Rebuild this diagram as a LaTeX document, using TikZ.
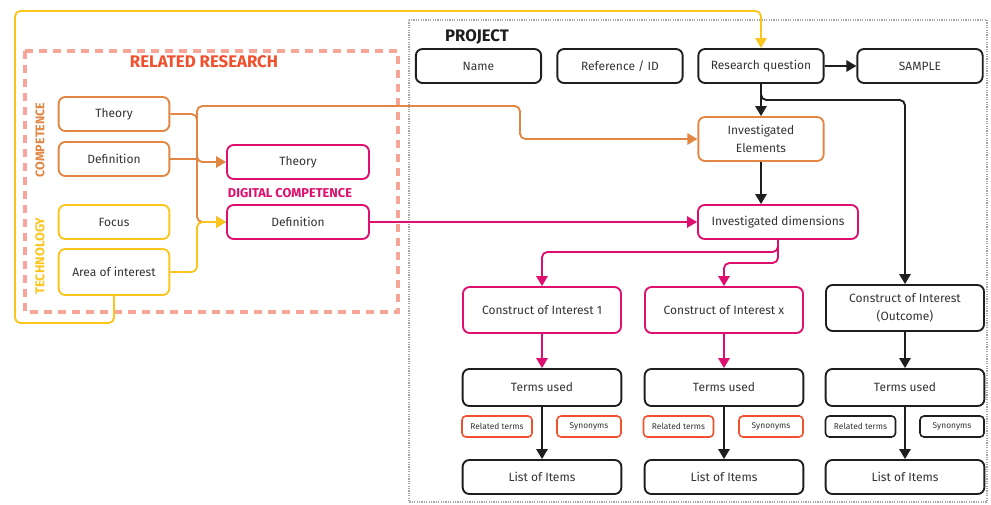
\documentclass[tikz,border=0pt]{standalone}
\usepackage{fontspec}
\setmainfont{Fira Sans}
\usepackage{tikz}
\usetikzlibrary{arrows.meta,positioning,calc}
\usepackage{xcolor}
\definecolor{compor}{RGB}{226,135,67}
\definecolor{techyel}{RGB}{250,198,30}
\definecolor{digmag}{RGB}{222,15,110}
\definecolor{relred}{RGB}{240,80,45}
\definecolor{relsalmon}{RGB}{246,165,150}
\definecolor{projgray}{RGB}{165,165,165}
\definecolor{inkblk}{RGB}{30,30,30}

\begin{document}
\begin{tikzpicture}[x=0.75pt,y=-0.75pt,
    box/.style={draw=inkblk,line width=1.4pt,rounded corners=5pt,align=center,inner sep=1pt,
      minimum height=25.5pt,font=\fontsize{9}{13.5}\selectfont,text=black!80},
    tagbox/.style={draw=relred,line width=1.2pt,rounded corners=3pt,inner sep=1pt,
      minimum height=15.75pt,font=\fontsize{6.3}{7}\selectfont,text=black!80},
    link/.style={line width=1.4pt,rounded corners=4pt},
    tip/.style={link,-{Triangle[length=7.5pt,width=8.5pt]}},
    heading/.style={font=\bfseries\fontsize{#1}{#1}\selectfont}]
    \useasboundingbox (0,0) rectangle (991,504);
    % frames
    \draw[projgray,line width=2.2pt,dash pattern=on 0.9pt off 0.9pt] (409,20) rectangle (987,502);
    \draw[relsalmon,line width=3pt,dash pattern=on 6pt off 4.5pt] (25,51) rectangle (398,312);
    \node[heading=12.5,text=inkblk] (projlbl) at (477,37) {PROJECT};
    \node[heading=12.6,text=relred] (rellbl) at (204,62) {RELATED RESEARCH};
    \node[heading=9.4,text=compor,rotate=90] (complbl) at (40,140) {COMPETENCE};
    \node[heading=9.6,text=techyel,rotate=90] (techlbl) at (40,256) {TECHNOLOGY};
    \node[heading=9.6,text=digmag] (diglbl) at (290,193) {DIGITAL COMPETENCE};

    % related research
    \node[box,draw=compor,minimum width=83pt] (ctheory) at (114,114) {Theory};
    \node[box,draw=compor,minimum width=83pt] (cdef) at (114,159) {Definition};
    \node[box,draw=techyel,minimum width=83pt] (focus) at (114,222) {Focus};
    \node[box,draw=techyel,minimum width=83pt,minimum height=34.5pt] (area) at (114,272) {Area of interest};
    \node[box,draw=digmag,minimum width=106.5pt] (dtheory) at (298,162) {Theory};
    \node[box,draw=digmag,minimum width=106.5pt] (ddef) at (298,222) {Definition};

    % project
    \node[box,minimum width=94pt] (name) at (478.5,66) {Name};
    \node[box,minimum width=94pt] (refid) at (620,66) {Reference / ID};
    \node[box,minimum width=94pt] (rq) at (761,66) {Research question};
    \node[box,minimum width=94pt] (sample) at (920,66) {SAMPLE};
    \node[box,draw=compor,minimum width=94pt,minimum height=33pt] (ie) at (761,139) {Investigated\\Elements};
    \node[box,draw=digmag,minimum width=120pt] (idim) at (778,222) {Investigated dimensions};

    \node[box,draw=digmag,minimum width=118.5pt,minimum height=34.5pt] (c1) at (542,310) {Construct of Interest 1};
    \node[box,draw=digmag,minimum width=118.5pt,minimum height=34.5pt] (cx) at (724,310) {Construct of Interest x};
    \node[box,minimum width=118.5pt,minimum height=34.5pt] (outc) at (905,308) {Construct of Interest\\(Outcome)};

    \node[box,minimum width=119pt,minimum height=27.75pt] (terms1) at (542,387.5) {Terms used};
    \node[box,minimum width=119pt,minimum height=27.75pt] (termsx) at (724,387.5) {Terms used};
    \node[box,minimum width=119pt,minimum height=27.75pt] (termso) at (905,387.5) {Terms used};

    \node[tagbox,minimum width=52.5pt] (rel1) at (497,426.5) {Related terms};
    \node[tagbox,minimum width=48pt] (syn1) at (589,426.5) {Synonyms};
    \node[tagbox,minimum width=52.5pt] (relx) at (678.5,426.5) {Related terms};
    \node[tagbox,minimum width=48pt] (synx) at (771,426.5) {Synonyms};
    \node[tagbox,draw=inkblk,minimum width=52.5pt] (relo) at (860.5,426.5) {Related terms};
    \node[tagbox,draw=inkblk,minimum width=48pt] (syno) at (952,426.5) {Synonyms};

    \node[box,minimum width=119pt] (list1) at (542,477) {List of Items};
    \node[box,minimum width=119pt] (listx) at (724,477) {List of Items};
    \node[box,minimum width=119pt] (listo) at (905,477) {List of Items};

    % connectors
    \coordinate (loopbl) at (15,323);
    \coordinate (looptl) at (15,11);
    \coordinate (ojct) at (197,159);
    \coordinate (yjct) at (197,222);
    \coordinate (orturn) at (520,106);
    \coordinate (rqturn) at (905,100);
    \coordinate (mturn1) at (542,252);
    \coordinate (mturn2) at (724,263);

    \draw[tip,techyel] (area.south) |- (loopbl) -- (looptl) -| (rq.north);
    \draw[link,compor] (ctheory.east) -| (ojct);
    \draw[link,compor] (cdef.east) -- (ojct);
    \draw[tip,compor] (ojct) |- (dtheory.west);
    \draw[tip,compor] (ojct) |- (ddef.west);
    \draw[tip,compor] (ojct) |- (orturn) |- (ie.west);
    \draw[tip,techyel] (area.east) -| (yjct) -- (ddef.west);
    \draw[tip,digmag] (ddef.east) -- (idim.west);

    \draw[tip,inkblk] (rq.east) -- (sample.west);
    \draw[tip,inkblk] (rq.south) -- (ie.north);
    \draw[tip,inkblk] (rq.south) |- (rqturn) -- (outc.north);
    \draw[tip,inkblk] (ie.south) -- (ie.south |- idim.north);
    \draw[tip,digmag] (idim.south) |- (mturn1) -- (c1.north);
    \draw[tip,digmag] (idim.south) |- (mturn2) -- (cx.north);

    \draw[tip,digmag] (c1.south) -- (terms1.north);
    \draw[tip,digmag] (cx.south) -- (termsx.north);
    \draw[tip,inkblk] (outc.south) -- (termso.north);
    \draw[tip,inkblk] (terms1.south) -- (list1.north);
    \draw[tip,inkblk] (termsx.south) -- (listx.north);
    \draw[tip,inkblk] (termso.south) -- (listo.north);
\end{tikzpicture}
\end{document}
